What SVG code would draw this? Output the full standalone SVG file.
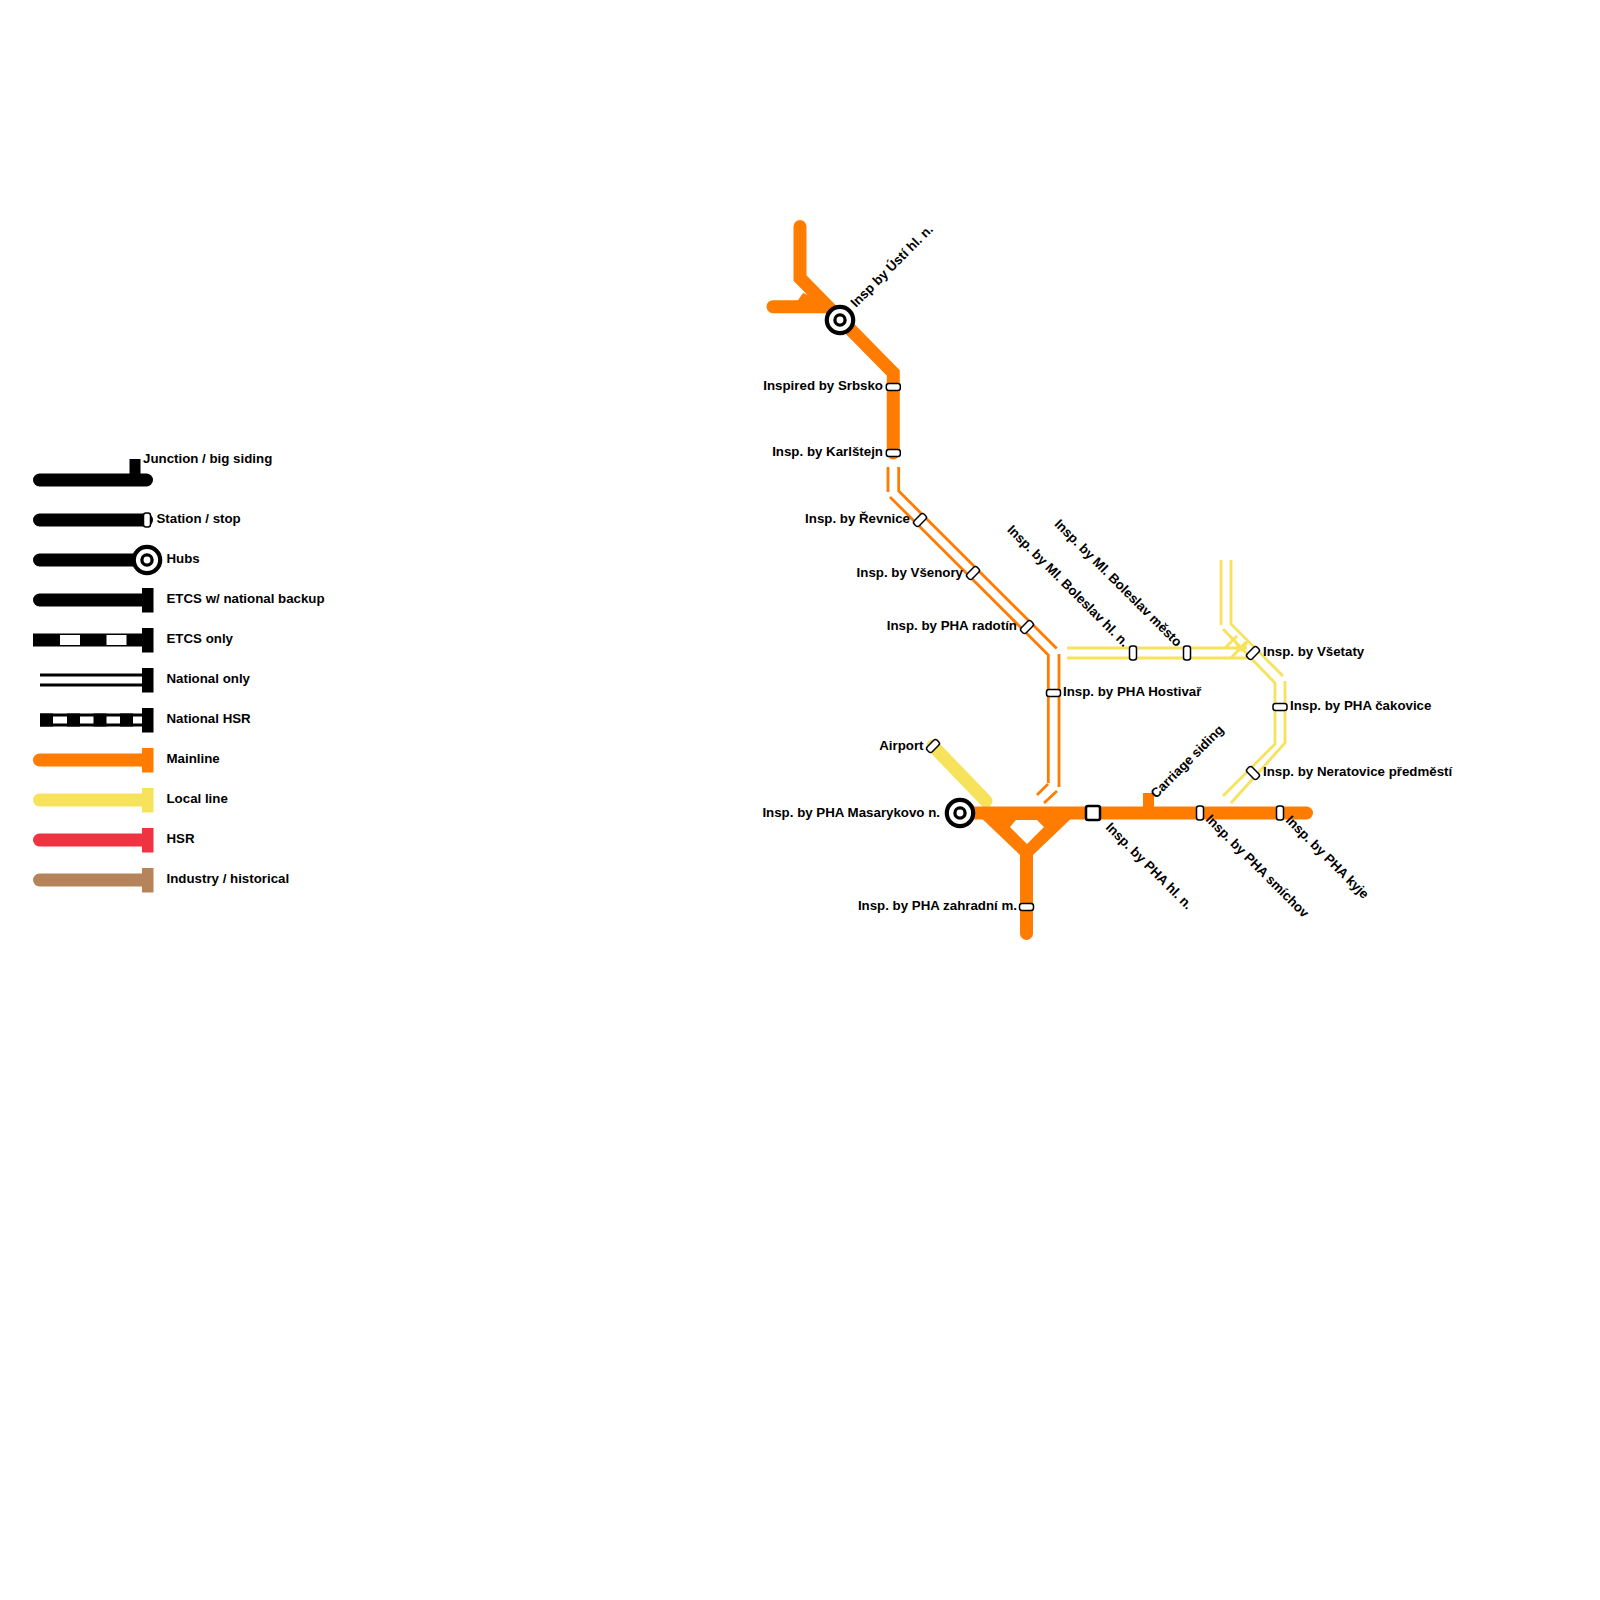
<svg xmlns="http://www.w3.org/2000/svg" width="1600" height="1600" viewBox="0 0 1600 1600">
<style>
text{font-family:"Liberation Sans",Arial,sans-serif;font-weight:700;font-size:13.3px;fill:#000}
.e{text-anchor:end}
.o{stroke:#ff7c00;fill:none}
.y{stroke:#f7e25c;fill:none}
.t{stroke-width:13;stroke-linecap:round;stroke-linejoin:miter;fill:none}
.r{stroke-width:2.8;fill:none}
.s{fill:#fff;stroke:#000;stroke-width:1.5}
</style>
<defs>
<rect id="st" class="s" x="-7" y="-3.5" width="14" height="7" rx="2.5"/>
<g id="hub"><circle r="13.200" fill="#fff" stroke="#000" stroke-width="4.200"/><circle r="5.100" fill="#fff" stroke="#000" stroke-width="3.300"/></g>
</defs>
<rect width="1600" height="1600" fill="#fff"/>
<g id="legend">
<g id="lg-junction"><path d="M39.500 480H146.500" class="t" stroke="#000"/><rect x="129.500" y="459" width="11" height="21"/><text x="143" y="463">Junction / big siding</text></g>
<g id="lg-station"><path d="M39.500 520H146.500" class="t" stroke="#000"/><use href="#st" transform="translate(147 520) rotate(90)"/><text x="156.500" y="523">Station / stop</text></g>
<g id="lg-hubs"><path d="M39.500 560H140" class="t" stroke="#000"/><use href="#hub" x="147" y="560"/><text x="166.500" y="563">Hubs</text></g>
<g id="lg-etcs"><path d="M39.500 600H146" class="t" stroke="#000"/><rect x="142" y="588" width="11.500" height="24.500"/><text x="166.500" y="603">ETCS w/ national backup</text></g>
<g id="lg-etcs-only"><rect x="33" y="633.500" width="113" height="13"/><rect x="60" y="635" width="20" height="10" fill="#fff"/><rect x="106.500" y="635" width="20" height="10" fill="#fff"/><rect x="142" y="628" width="11.500" height="24.500"/><text x="166.500" y="643">ETCS only</text></g>
<g id="lg-national"><path d="M40 675H146M40 685H146" class="r" stroke="#000"/><rect x="142" y="668" width="11.500" height="24.500"/><text x="166.500" y="683">National only</text></g>
<g id="lg-nat-hsr"><path d="M40 715H146M40 725H146" class="r" stroke="#000"/><path d="M40 713.500h13v13h-13zM67 713.500h13v13h-13zM93.500 713.500h13v13h-13zM120 713.500h13v13h-13z"/><rect x="142" y="708" width="11.500" height="24.500"/><text x="166.500" y="723">National HSR</text></g>
<g id="lg-mainline"><path d="M39.500 760H146" class="t" stroke="#ff7c00"/><rect x="142" y="748" width="11.500" height="24.500" fill="#ff7c00"/><text x="166.500" y="763">Mainline</text></g>
<g id="lg-local"><path d="M39.500 800H146" class="t" stroke="#f7e25c"/><rect x="142" y="788" width="11.500" height="24.500" fill="#f7e25c"/><text x="166.500" y="803">Local line</text></g>
<g id="lg-hsr"><path d="M39.500 840H146" class="t" stroke="#ef3340"/><rect x="142" y="828" width="11.500" height="24.500" fill="#ef3340"/><text x="166.500" y="843">HSR</text></g>
<g id="lg-industry"><path d="M39.500 880H146" class="t" stroke="#b5845a"/><rect x="142" y="868" width="11.500" height="24.500" fill="#b5845a"/><text x="166.500" y="883">Industry / historical</text></g>
</g>
<g id="connectors">
<path class="t" stroke="#ff7c00" d="M800 226.500V278L893.300 373V453"/>
<path fill="#ff7c00" d="M773 300.200H798L803 293L820 300L830 313.200H773A6.500 6.500 0 0 1 773 300.200Z"/>
<path class="o r" d="M888 467V492M898.700 467V491L1056.700 648.500M890 497L1048.300 655V783M1059 654V787M1048 784L1037 795M1057 791L1044 803"/>
<path class="y r" d="M1067 648H1247M1067 658H1250M1221 560V625M1231 560V624L1283 676M1223 629L1275 683V744L1223 796M1285 681V743L1231 803M1225 648L1237 636M1231 658L1246 642M1233 638L1241 651M1241 651L1247 642"/>
<path class="t" stroke="#f7e25c" d="M933 746L986 801"/>
<path class="t" stroke="#ff7c00" d="M960 813H1306.500"/>
<path fill="#ff7c00" fill-rule="evenodd" d="M975 812L1020 855V933.500A6.500 6.500 0 0 0 1033 933.500V855L1078 812ZM1010 827L1016 820H1037L1044 827L1027 844Z"/>
<rect x="1143" y="793" width="11" height="20" fill="#ff7c00"/>
</g>
<g id="n-usti"><use href="#hub" x="840" y="320"/><text transform="translate(856 308) rotate(-45)">Insp by Ústí hl. n.</text></g>
<g id="n-srbsko"><use href="#st" x="893.300" y="387"/><text class="e" x="883" y="390">Inspired by Srbsko</text></g>
<g id="n-karlstejn"><use href="#st" x="893.300" y="453"/><text class="e" x="883" y="456">Insp. by Karlštejn</text></g>
<g id="n-revnice"><use href="#st" transform="translate(920 520) rotate(-45)"/><text class="e" x="910" y="523">Insp. by Řevnice</text></g>
<g id="n-vsenory"><use href="#st" transform="translate(973 573) rotate(-45)"/><text class="e" x="963" y="577">Insp. by Všenory</text></g>
<g id="n-radotin"><use href="#st" transform="translate(1027 627) rotate(-45)"/><text class="e" x="1017" y="630">Insp. by PHA radotín</text></g>
<g id="n-hostivar"><use href="#st" x="1053.500" y="693"/><text x="1063" y="696">Insp. by PHA Hostivař</text></g>
<g id="n-mb-hl"><use href="#st" transform="translate(1133 653) rotate(90)"/><text class="e" transform="translate(1123.500 647.500) rotate(45)">Insp. by Ml. Boleslav hl. n.</text></g>
<g id="n-mb-m"><use href="#st" transform="translate(1187 653) rotate(90)"/><text class="e" transform="translate(1176.500 647.500) rotate(45)">Insp. by Ml. Boleslav město</text></g>
<g id="n-vsetaty"><use href="#st" transform="translate(1253 653) rotate(-45)"/><text x="1263" y="656">Insp. by Všetaty</text></g>
<g id="n-cakovice"><use href="#st" x="1280" y="707"/><text x="1290" y="710">Insp. by PHA čakovice</text></g>
<g id="n-neratovice"><use href="#st" transform="translate(1253 773) rotate(45)"/><text x="1263" y="776">Insp. by Neratovice předměstí</text></g>
<g id="n-airport"><use href="#st" transform="translate(933 746) rotate(-45)"/><text class="e" x="923.500" y="750">Airport</text></g>
<g id="n-masaryk"><use href="#hub" x="960" y="813"/><text class="e" x="940" y="817">Insp. by PHA Masarykovo n.</text></g>
<g id="n-zahradni"><use href="#st" x="1026.500" y="907"/><text class="e" x="1017" y="910">Insp. by PHA zahradní m.</text></g>
<g id="n-hl"><rect x="1086" y="806" width="14" height="14" rx="2" fill="#fff" stroke="#000" stroke-width="2.500"/><text transform="translate(1105 828) rotate(45)">Insp. by PHA hl. n.</text></g>
<g id="n-siding"><text transform="translate(1156 799) rotate(-45)">Carriage siding</text></g>
<g id="n-smichov"><use href="#st" transform="translate(1200 813) rotate(90)"/><text transform="translate(1205 820) rotate(45)">Insp. by PHA smíchov</text></g>
<g id="n-kyje"><use href="#st" transform="translate(1280 813) rotate(90)"/><text transform="translate(1285 821) rotate(45)">Insp. by PHA kyje</text></g>
</svg>
